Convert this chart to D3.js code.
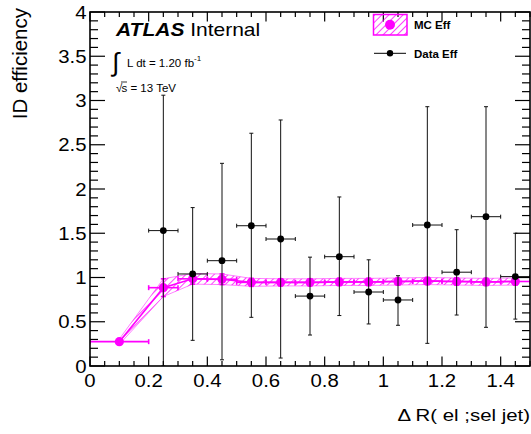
<!DOCTYPE html>
<html>
<head>
<meta charset="utf-8">
<script src="https://cdn.jsdelivr.net/npm/d3@7"></script>
<style>
  html, body { margin: 0; padding: 0; background: #fff; }
  svg { display: block; font-family: "Liberation Sans", Arial, sans-serif; }
</style>
</head>
<body>
<svg id="chart" width="531" height="434"></svg>
<script>
// ---------------- DATA ----------------
const mcX      = [0.1, 0.25, 0.35, 0.45, 0.55, 0.65, 0.75, 0.85, 0.95, 1.05, 1.15, 1.25, 1.35, 1.45];
const mcXErr   = [0.1, 0.05, 0.05, 0.05, 0.05, 0.05, 0.05, 0.05, 0.05, 0.05, 0.05, 0.05, 0.05, 0.05];
const mcY      = [0.275, 0.885, 0.985, 0.98, 0.945, 0.945, 0.945, 0.95, 0.95, 0.955, 0.96, 0.955, 0.95, 0.955];
const mcYErr   = [0.03, 0.10, 0.06, 0.06, 0.045, 0.04, 0.04, 0.04, 0.04, 0.04, 0.04, 0.04, 0.04, 0.04];

const dataX     = [0.25, 0.35, 0.45, 0.55, 0.65, 0.75, 0.85, 0.95, 1.05, 1.15, 1.25, 1.35, 1.45];
const dataXErr  = [0.05, 0.05, 0.05, 0.05, 0.05, 0.05, 0.05, 0.05, 0.05, 0.05, 0.05, 0.05, 0.05];
const dataY     = [1.53, 1.04, 1.19, 1.585, 1.435, 0.79, 1.235, 0.836, 0.746, 1.593, 1.06, 1.687, 1.01];
const dataErrUp = [1.53, 0.75, 1.10, 1.045, 1.345, 0.44, 0.675, 0.364, 0.274, 1.337, 0.48, 1.243, 0.49];
const dataErrDn = [1.53, 0.75, 1.12, 1.035, 1.345, 0.44, 0.665, 0.361, 0.286, 1.337, 0.484, 1.25, 0.48];

const xMajorTicks = [0, 0.2, 0.4, 0.6, 0.8, 1.0, 1.2, 1.4];
const xTickLabels = ["0", "0.2", "0.4", "0.6", "0.8", "1", "1.2", "1.4"];
const yMajorTicks = [0, 0.5, 1, 1.5, 2, 2.5, 3, 3.5, 4];
const yTickLabels = ["0", "0.5", "1", "1.5", "2", "2.5", "3", "3.5", "4"];

const xTitle = "\u0394 R( el ;sel jet)";
const yTitle = "ID efficiency";
const legendLabels = ["MC Eff", "Data Eff"];

// ---------------- LAYOUT ----------------
const L = 90, R = 530, T = 12, B = 366;
const MAG = "#ff00ff";
const svg = d3.select("#chart");
const x = d3.scaleLinear().domain([0, 1.5]).range([L, R]);
const y = d3.scaleLinear().domain([0, 4]).range([B, T]);

// hatch pattern
const defs = svg.append("defs");
const pat = defs.append("pattern")
  .attr("id", "hatch").attr("patternUnits", "userSpaceOnUse")
  .attr("width", 5).attr("height", 5)
  .attr("patternTransform", "rotate(45)");
pat.append("line").attr("x1", 0).attr("y1", 0).attr("x2", 0).attr("y2", 5)
  .attr("stroke", MAG).attr("stroke-width", 1.5);
defs.append("clipPath").attr("id", "plotclip").append("rect")
  .attr("x", L).attr("y", T).attr("width", R - L).attr("height", B - T);

const plot = svg.append("g").attr("clip-path", "url(#plotclip)");

// MC band
const mc = mcX.map((v, i) => ({x: v, xe: mcXErr[i], y: mcY[i], ye: mcYErr[i]}));
const area = d3.area().x(d => x(d.x)).y0(d => y(d.y - d.ye)).y1(d => y(d.y + d.ye));
plot.append("path").datum(mc).attr("d", area)
  .attr("fill", "url(#hatch)").attr("stroke", MAG).attr("stroke-width", 0.7).attr("stroke-opacity", 0.7);

// MC central line
plot.append("path").datum(mc)
  .attr("d", d3.line().x(d => x(d.x)).y(d => y(d.y)))
  .attr("fill", "none").attr("stroke", MAG).attr("stroke-width", 1.6);

// MC error bars
const mcg = plot.append("g").attr("stroke", MAG).attr("stroke-width", 1.6);
mc.forEach(d => {
  mcg.append("line").attr("x1", x(d.x - d.xe)).attr("x2", x(d.x + d.xe)).attr("y1", y(d.y)).attr("y2", y(d.y));
  mcg.append("line").attr("x1", x(d.x)).attr("x2", x(d.x)).attr("y1", y(d.y - d.ye)).attr("y2", y(d.y + d.ye));
  [d.x - d.xe, d.x + d.xe].forEach(xx => mcg.append("line").attr("x1", x(xx)).attr("x2", x(xx)).attr("y1", y(d.y) - 2.5).attr("y2", y(d.y) + 2.5));
  [d.y - d.ye, d.y + d.ye].forEach(yy => mcg.append("line").attr("x1", x(d.x) - 2.5).attr("x2", x(d.x) + 2.5).attr("y1", y(yy)).attr("y2", y(yy)));
});
plot.selectAll("circle.mc").data(mc).join("circle").attr("class", "mc")
  .attr("cx", d => x(d.x)).attr("cy", d => y(d.y)).attr("r", 4.6).attr("fill", MAG);

// Data points
const data = dataX.map((v, i) => ({x: v, xe: dataXErr[i], y: dataY[i], up: dataErrUp[i], dn: dataErrDn[i]}));
const dg = plot.append("g").attr("stroke", "#111").attr("stroke-width", 1);
data.forEach(d => {
  dg.append("line").attr("x1", x(d.x - d.xe)).attr("x2", x(d.x + d.xe)).attr("y1", y(d.y)).attr("y2", y(d.y));
  dg.append("line").attr("x1", x(d.x)).attr("x2", x(d.x)).attr("y1", y(d.y - d.dn)).attr("y2", y(d.y + d.up));
  [d.x - d.xe, d.x + d.xe].forEach(xx => dg.append("line").attr("x1", x(xx)).attr("x2", x(xx)).attr("y1", y(d.y) - 2).attr("y2", y(d.y) + 2));
  [d.y - d.dn, d.y + d.up].forEach(yy => dg.append("line").attr("x1", x(d.x) - 2).attr("x2", x(d.x) + 2).attr("y1", y(yy)).attr("y2", y(yy)));
});
plot.selectAll("circle.dt").data(data).join("circle").attr("class", "dt")
  .attr("cx", d => x(d.x)).attr("cy", d => y(d.y)).attr("r", 3.4).attr("fill", "#000");

// ---------------- FRAME & TICKS ----------------
const ax = svg.append("g").attr("stroke", "#000").attr("stroke-width", 1.2);
ax.append("rect").attr("x", L).attr("y", T).attr("width", R - L).attr("height", B - T)
  .attr("fill", "none").attr("stroke-width", 1.6);
const xMinor = d3.range(0, 1.5001, 0.05);
xMinor.forEach((v, i) => {
  const major = i % 4 === 0;
  const len = major ? 9.5 : 5;
  ax.append("line").attr("x1", x(v)).attr("x2", x(v)).attr("y1", B).attr("y2", B - len);
  ax.append("line").attr("x1", x(v)).attr("x2", x(v)).attr("y1", T).attr("y2", T + len);
});
const yMinor = d3.range(0, 4.0001, 0.1);
yMinor.forEach((v, i) => {
  const major = i % 5 === 0;
  const len = major ? 15 : 8;
  ax.append("line").attr("x1", L).attr("x2", L + len).attr("y1", y(v)).attr("y2", y(v));
  ax.append("line").attr("x1", R).attr("x2", R - len).attr("y1", y(v)).attr("y2", y(v));
});

// tick labels
const lab = svg.append("g").attr("fill", "#000").attr("font-size", 18.5);
xMajorTicks.forEach((v, i) => {
  lab.append("text").attr("transform", `translate(${x(v)},387) scale(1.1,1)`)
    .attr("text-anchor", "middle").text(xTickLabels[i]);
});
yMajorTicks.forEach((v, i) => {
  lab.append("text").attr("transform", `translate(86.5,${y(v) + 6.7}) scale(1.1,1)`)
    .attr("text-anchor", "end").text(yTickLabels[i]);
});

// axis titles
svg.append("text").attr("transform", "translate(530,421) scale(1.2,1)")
  .attr("text-anchor", "end").attr("font-size", 17).text(xTitle);
svg.append("text").attr("transform", "translate(27,8) rotate(-90)")
  .attr("text-anchor", "end").attr("font-size", 20.5).text(yTitle);

// ATLAS label
const atl = svg.append("text").attr("transform", "translate(116,36) scale(1.2,1)").attr("font-size", 17.5);
atl.append("tspan").attr("font-weight", "bold").attr("font-style", "italic").text("ATLAS");
atl.append("tspan").text(" Internal");

// luminosity
svg.append("text").attr("x", 112).attr("y", 71).attr("font-size", 26).attr("font-weight", "lighter").text("\u222B");
const lum = svg.append("text").attr("x", 127).attr("y", 66.5).attr("font-size", 11.5);
lum.append("tspan").text("L dt = 1.20 fb");
lum.append("tspan").attr("dy", -6).attr("font-size", 8).text("-1");
// sqrt s
svg.append("text").attr("x", 116).attr("y", 91.5).attr("font-size", 11.5).text("\u221A");
svg.append("line").attr("x1", 121).attr("x2", 127).attr("y1", 82).attr("y2", 82).attr("stroke", "#000").attr("stroke-width", 0.8);
svg.append("text").attr("x", 121.5).attr("y", 91.5).attr("font-size", 11.5).text("s = 13 TeV");

// ---------------- LEGEND ----------------
const lg = svg.append("g");
lg.append("rect").attr("x", 373.5).attr("y", 14.5).attr("width", 33.5).attr("height", 20.5)
  .attr("fill", "url(#hatch)").attr("stroke", MAG).attr("stroke-width", 1.5);
lg.append("circle").attr("cx", 390).attr("cy", 24.8).attr("r", 5).attr("fill", MAG);
lg.append("text").attr("x", 414).attr("y", 29.3).attr("font-size", 11.5).attr("font-weight", "bold").text(legendLabels[0]);
lg.append("line").attr("x1", 374).attr("x2", 406).attr("y1", 53.3).attr("y2", 53.3).attr("stroke", "#000").attr("stroke-width", 1);
lg.append("circle").attr("cx", 390).attr("cy", 53.3).attr("r", 3.2).attr("fill", "#000");
lg.append("text").attr("x", 414).attr("y", 57.5).attr("font-size", 11.5).attr("font-weight", "bold").text(legendLabels[1]);
</script>
</body>
</html>
